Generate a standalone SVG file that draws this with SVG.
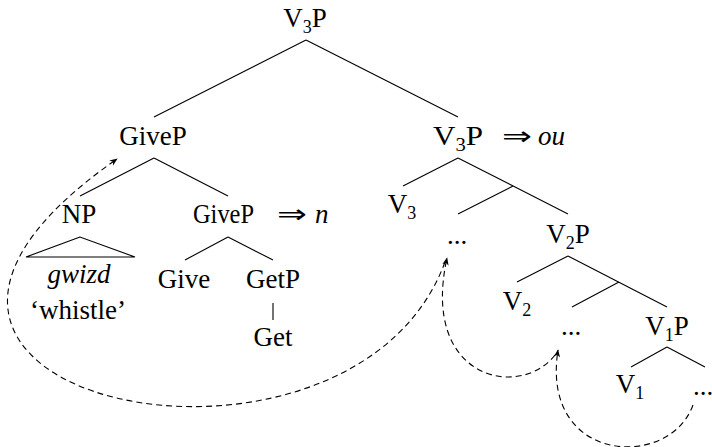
<svg xmlns="http://www.w3.org/2000/svg" width="712" height="447" viewBox="0 0 712 447">
<style>
text{font-family:"Liberation Serif","Times New Roman",serif;font-size:27px;fill:#000}
.it{font-style:italic}
.sub{font-size:18px}
.arr{font-family:"DejaVu Sans",sans-serif;font-size:26px}
.e{stroke:#000;stroke-width:1.1;fill:none}
.mv{stroke:#000;stroke-width:1.1;fill:none;stroke-dasharray:6 4;marker-end:url(#ah)}
</style>
<defs>
<marker id="ah" viewBox="0 0 10 10" refX="9" refY="5" markerWidth="8" markerHeight="8" markerUnits="userSpaceOnUse" orient="auto">
<path d="M0,1 L10,5 L0,9 L3,5 Z" fill="#000"/>
</marker>
</defs>
<g id="edges">
<path class="e" d="M306,40 L154,117 M306,40 L458,117"/>
<path class="e" d="M154,158 L80,196 M154,158 L228,196"/>
<path class="e" d="M80,237 L26,257 L135,257 Z"/>
<path class="e" d="M228,237 L185,260 M228,237 L273,260"/>
<path class="e" d="M273,303 L273,320"/>
<path class="e" d="M458,158 L403,186 M458,158 L568,214 M513,186 L458,214"/>
<path class="e" d="M568,256 L517,282 M568,256 L667,307 M619,282 L572,307"/>
<path class="e" d="M667,347 L631,367 M667,347 L705,367"/>
</g>
<g id="movement">
<path class="mv" d="M445,262 C350,520 -230,400 117,159"/>
<path class="mv" d="M555,355 C520,400 420,380 447,258"/>
<path class="mv" d="M693,405 C670,470 540,465 558,350"/>
</g>
<g id="n-root"><text x="305" y="27" text-anchor="middle">V<tspan class="sub" dy="6">3</tspan><tspan dy="-6">P</tspan></text></g>
<g id="n-givep"><text x="153" y="145" text-anchor="middle">GiveP</text></g>
<g id="n-v3p"><text x="433" y="145" textLength="50" lengthAdjust="spacingAndGlyphs">V<tspan class="sub" dy="6">3</tspan><tspan dy="-6">P</tspan></text><text class="arr" x="502" y="145" textLength="30" lengthAdjust="spacingAndGlyphs">⇒</text><text class="it" x="538" y="145">ou</text></g>
<g id="n-np"><text x="79" y="223" text-anchor="middle">NP</text></g>
<g id="n-gwizd"><text x="79" y="283" text-anchor="middle" class="it">gwizd</text><text x="78" y="319" text-anchor="middle">‘whistle’</text></g>
<g id="n-givep2"><text x="193" y="223" textLength="61" lengthAdjust="spacingAndGlyphs">GiveP</text><text class="arr" x="277" y="223" textLength="30" lengthAdjust="spacingAndGlyphs">⇒</text><text class="it" x="315" y="223">n</text></g>
<g id="n-give"><text x="184" y="288" text-anchor="middle">Give</text></g>
<g id="n-getp"><text x="273" y="288" text-anchor="middle">GetP</text></g>
<g id="n-get"><text x="273" y="346" text-anchor="middle">Get</text></g>
<g id="n-v3"><text x="402" y="213" text-anchor="middle">V<tspan class="sub" dy="6">3</tspan></text></g>
<g id="n-dots3"><text x="457" y="244" text-anchor="middle">...</text></g>
<g id="n-v2p"><text x="568" y="243" text-anchor="middle">V<tspan class="sub" dy="6">2</tspan><tspan dy="-6">P</tspan></text></g>
<g id="n-v2"><text x="517" y="310" text-anchor="middle">V<tspan class="sub" dy="6">2</tspan></text></g>
<g id="n-dots2"><text x="571" y="335" text-anchor="middle">...</text></g>
<g id="n-v1p"><text x="667" y="335" text-anchor="middle">V<tspan class="sub" dy="6">1</tspan><tspan dy="-6">P</tspan></text></g>
<g id="n-v1"><text x="630" y="393" text-anchor="middle">V<tspan class="sub" dy="6">1</tspan></text></g>
<g id="n-dots1"><text x="703" y="395" text-anchor="middle">...</text></g>
</svg>
